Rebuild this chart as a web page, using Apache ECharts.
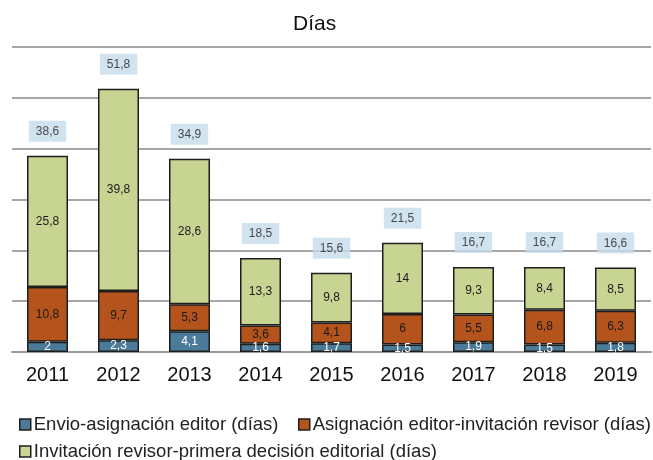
<!DOCTYPE html>
<html>
<head>
<meta charset="utf-8">
<script src="https://cdn.jsdelivr.net/npm/echarts@6/dist/echarts.min.js"></script>
<style>html,body{margin:0;padding:0;background:#fff}#c{width:653px;height:460px}</style>
</head>
<body>
<div id="c"></div>
<script>
var years = ['2011','2012','2013','2014','2015','2016','2017','2018','2019'];
var envio = [2, 2.3, 4.1, 1.6, 1.7, 1.5, 1.9, 1.5, 1.8];
var asignacion = [10.8, 9.7, 5.3, 3.6, 4.1, 6, 5.5, 6.8, 6.3];
var invitacion = [25.8, 39.8, 28.6, 13.3, 9.8, 14, 9.3, 8.4, 8.5];
var totals = [38.6, 51.8, 34.9, 18.5, 15.6, 21.5, 16.7, 16.7, 16.6];
var names = ['Envio-asignación editor (días)', 'Asignación editor-invitación revisor (días)', 'Invitación revisor-primera decisión editorial (días)'];

var FONT = '"Liberation Sans", Arial, Helvetica, sans-serif';
function fmt(v){ return String(v).replace('.', ','); }
var stackTops = years.map(function(_, i){ return +(envio[i] + asignacion[i] + invitacion[i]).toFixed(2); });

function barSeries(name, data, color, labelColor){
  return {
    name: name, type: 'bar', stack: 'a', data: data, barWidth: 41,
    itemStyle: { color: color, borderColor: '#1e1e1e', borderWidth: 1.5 },
    label: { show: true, position: 'inside', color: labelColor, fontSize: 12, fontFamily: FONT,
      formatter: function(p){ return fmt(p.value); } },
    emphasis: { disabled: true }
  };
}
function legendItem(name, left, top){
  return { data: [name], left: left, top: top, icon: 'rect', itemWidth: 11, itemHeight: 11, itemGap: 4,
    itemStyle: { borderColor: '#1e1e1e', borderWidth: 1.5 },
    textStyle: { fontSize: 18.5, color: '#222', fontFamily: FONT, padding: [0,0,0,-2] } };
}

var chart = echarts.init(document.getElementById('c'), null, { renderer: 'canvas' });
chart.setOption({
  animation: false,
  backgroundColor: '#fff',
  title: { text: 'Días', left: 288, top: 9, textStyle: { fontSize: 21, fontWeight: 'normal', color: '#111', fontFamily: FONT } },
  grid: { left: 12, right: 2, top: 47, bottom: 108, containLabel: false },
  legend: [
    legendItem(names[0], 14, 410),
    legendItem(names[1], 293, 410),
    legendItem(names[2], 14, 437)
  ],
  xAxis: {
    type: 'category', data: years,
    axisLine: { lineStyle: { color: '#9a9a9a', width: 2 } },
    axisTick: { show: false },
    axisLabel: { fontSize: 20, color: '#111', margin: 13, fontFamily: FONT }
  },
  yAxis: {
    type: 'value', min: 0, max: 60, interval: 10,
    axisLabel: { show: false }, axisLine: { show: false }, axisTick: { show: false },
    splitLine: { lineStyle: { color: '#a6a6a6', width: 2 } }
  },
  series: [
    barSeries(names[0], envio, '#4a7b98', '#ffffff'),
    barSeries(names[1], asignacion, '#b4541c', '#1a1a1a'),
    barSeries(names[2], invitacion, '#c8d592', '#1a1a1a'),
    {
      name: 'total', type: 'scatter', data: stackTops, symbolSize: 0, z: 5,
      label: { show: true, position: 'top', distance: 14, fontSize: 12, color: '#222', fontFamily: FONT,
        backgroundColor: '#c6dcea', padding: [5, 7, 4, 7],
        formatter: function(p){ return fmt(totals[p.dataIndex]); } },
      emphasis: { disabled: true }
    }
  ]
});
</script>
</body>
</html>
